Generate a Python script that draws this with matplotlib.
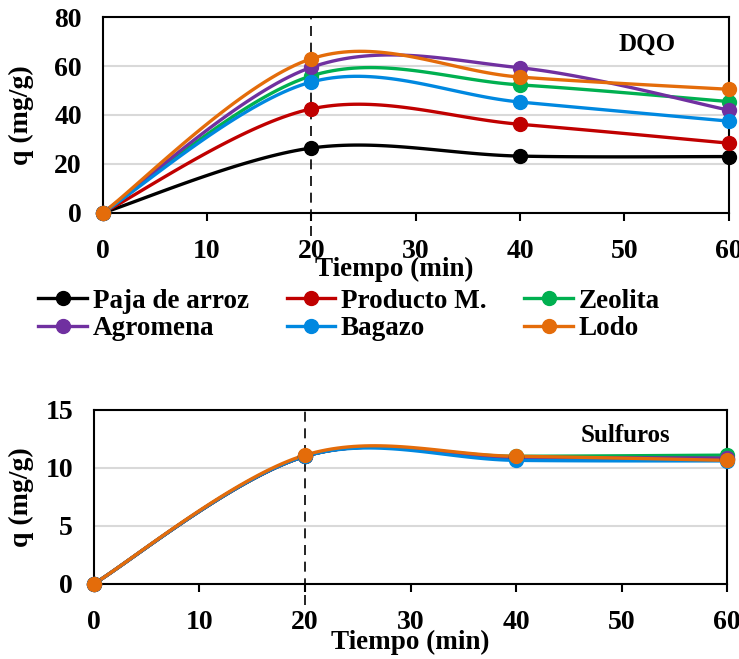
import numpy as np
import matplotlib
matplotlib.use("Agg")
import matplotlib.pyplot as plt

plt.rcParams['font.family'] = ['Liberation Serif', 'DejaVu Serif']
plt.rcParams['font.weight'] = 'bold'

tiempo = [0, 20, 40, 60]
names = ['Paja de arroz', 'Producto M.', 'Zeolita', 'Agromena', 'Bagazo', 'Lodo']
colors = ['#000000', '#C00000', '#00B050', '#7030A0', '#0088E0', '#E46C0A']

# DQO (mg/g)
dqo_paja = [0, 26.5, 23.2, 23.0]
dqo_producto = [0, 42.5, 36.2, 28.5]
dqo_zeolita = [0, 56.0, 52.3, 45.5]
dqo_agromena = [0, 59.5, 59.3, 42.0]
dqo_bagazo = [0, 53.5, 45.3, 37.5]
dqo_lodo = [0, 63.0, 55.5, 50.5]

# Sulfuros (mg/g)
sul_paja = [0, 11.0, 10.9, 10.8]
sul_producto = [0, 11.0, 10.9, 10.8]
sul_zeolita = [0, 11.0, 11.0, 11.1]
sul_agromena = [0, 11.0, 10.9, 10.85]
sul_bagazo = [0, 11.0, 10.65, 10.6]
sul_lodo = [0, 11.1, 11.0, 10.65]

dqo = [dqo_paja, dqo_producto, dqo_zeolita, dqo_agromena, dqo_bagazo, dqo_lodo]
sul = [sul_paja, sul_producto, sul_zeolita, sul_agromena, sul_bagazo, sul_lodo]


def smooth(x, y, n=40):
    # excel-like smoothed line (bezier, catmull-rom control points)
    p = np.column_stack([x, y]).astype(float)
    out = []
    for i in range(len(p) - 1):
        p0 = p[max(i - 1, 0)]
        p1 = p[i]
        p2 = p[i + 1]
        p3 = p[min(i + 2, len(p) - 1)]
        c1 = p1 + (p2 - p0) / 6
        c2 = p2 - (p3 - p1) / 6
        t = np.linspace(0, 1, n)[:, None]
        seg = (1 - t)**3 * p1 + 3 * (1 - t)**2 * t * c1 + 3 * (1 - t) * t**2 * c2 + t**3 * p2
        out.append(seg)
    s = np.vstack(out)
    return s[:, 0], s[:, 1]


def style(ax, ymax, ystep):
    ax.set_xlim(0, 60)
    ax.set_ylim(0, ymax)
    ax.set_xticks(range(0, 61, 10))
    ax.set_yticks(np.arange(0, ymax + 0.1, ystep))
    ax.yaxis.grid(True, color='#D9D9D9', lw=1.5)
    ax.set_axisbelow(True)
    for s in ax.spines.values():
        s.set_linewidth(1.5)
    ax.tick_params(axis='x', direction='out', length=6, width=1.5, pad=13, labelsize=20)
    ax.tick_params(axis='y', length=0, pad=15, labelsize=20)
    ax.axvline(20, ymin=-0.12, ymax=1, color='black', lw=1.2, ls=(0, (6, 4)), clip_on=False, zorder=1)


fig = plt.figure(figsize=(7.39, 6.59), dpi=100)
ax1 = fig.add_axes([0.139, 0.677, 0.847, 0.297])
ax2 = fig.add_axes([0.127, 0.114, 0.857, 0.264])

handles = []
for vals, name, c in zip(dqo, names, colors):
    xs, ys = smooth(tiempo, vals)
    ax1.plot(xs, ys, color=c, lw=2.4, zorder=3)
    ax1.plot(tiempo, vals, 'o', color=c, ms=10, zorder=4, clip_on=False)
    h, = ax1.plot([], [], '-o', color=c, lw=2.4, ms=10, label=name)
    handles.append(h)

for vals, c in zip(sul, colors):
    xs, ys = smooth(tiempo, vals)
    ax2.plot(xs, ys, color=c, lw=2.4, zorder=3)
    ax2.plot(tiempo, vals, 'o', color=c, ms=10, zorder=4, clip_on=False)

style(ax1, 80, 20)
style(ax2, 15, 5)

ax1.set_xlabel('Tiempo (min)', fontsize=19.5, fontweight='bold')
ax1.xaxis.set_label_coords(0.466, -0.29)
ax1.xaxis.label.set_va('center')
ax1.set_ylabel('q (mg/g)', fontsize=20, fontweight='bold', va='center')
ax1.yaxis.set_label_coords(-0.13, 0.5)

ax2.set_xlabel('Tiempo (min)', fontsize=19.5, fontweight='bold')
ax2.xaxis.set_label_coords(0.5, -0.339)
ax2.xaxis.label.set_va('center')
ax2.set_ylabel('q (mg/g)', fontsize=20, fontweight='bold', va='center')
ax2.yaxis.set_label_coords(-0.114, 0.5)

ax1.text(0.87, 0.86, 'DQO', transform=ax1.transAxes, fontsize=18, fontweight='bold', ha='center', va='center')
ax2.text(0.84, 0.855, 'Sulfuros', transform=ax2.transAxes, fontsize=18, fontweight='bold', ha='center', va='center')

# legend filled column-wise, so reorder to get rows as in the original
order = [0, 3, 1, 4, 2, 5]
fig.legend([handles[i] for i in order], [names[i] for i in order],
           loc='upper left', bbox_to_anchor=(0.052, 0.562), ncol=3, frameon=False,
           fontsize=19.5, handlelength=1.8, handletextpad=0.2, columnspacing=1.4,
           labelspacing=0.1, borderaxespad=0, borderpad=0)

fig.savefig('out.png', dpi=100)
